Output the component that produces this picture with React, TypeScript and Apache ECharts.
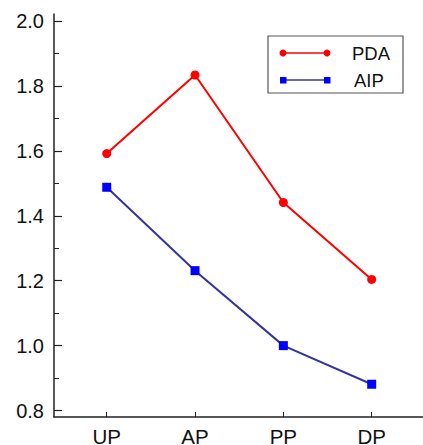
import React, { useEffect, useRef } from "react";
import * as echarts from "echarts";

const categories = ["UP", "AP", "PP", "DP"];
const pdaValues = [1.592, 1.834, 1.441, 1.204];
const aipValues = [1.488, 1.231, 1.0, 0.881];
const yMajorTicks = [0.8, 1.0, 1.2, 1.4, 1.6, 1.8, 2.0];
const yMinorTicks = [0.9, 1.1, 1.3, 1.5, 1.7, 1.9];

const FONT = "Liberation Sans, Arial, sans-serif";

export default function App() {
  const ref = useRef<HTMLDivElement>(null);
  useEffect(() => {
    if (!ref.current) return;
    const chart = echarts.init(ref.current, null, { renderer: "svg" });
    const xIdx = categories.map((_, i) => i);
    const axisColor = "#222";
    const yCommon = {
      type: "value",
      position: "left",
      min: 0.78,
      max: 2.022,
      splitLine: { show: false },
    };
    chart.setOption({
      animation: false,
      backgroundColor: "#fff",
      grid: { left: 54, right: 0, top: 14, bottom: 28, containLabel: false, outerBoundsMode: "none" },
      xAxis: {
        type: "value",
        min: -0.597,
        max: 3.581,
        splitLine: { show: false },
        axisLine: { show: true, onZero: false, lineStyle: { color: axisColor, width: 1.5 } },
        axisTick: { show: true, inside: true, length: 5, customValues: xIdx, lineStyle: { color: axisColor, width: 1 } },
        axisLabel: {
          customValues: xIdx,
          formatter: (v: number) => categories[Math.round(v)] ?? "",
          color: "#111",
          fontSize: 20.5,
          fontFamily: FONT,
          margin: 12,
          lineHeight: 15,
        },
      },
      yAxis: [
        {
          ...yCommon,
          axisLine: { show: true, onZero: false, lineStyle: { color: axisColor, width: 1.5 } },
          axisTick: { show: false },
          axisLabel: {
            customValues: yMajorTicks,
            formatter: (v: number) => v.toFixed(1),
            color: "#111",
            fontSize: 20,
            fontFamily: FONT,
            margin: 10,
          },
        },
        {
          ...yCommon,
          axisLine: { show: false, onZero: false },
          axisTick: { show: true, inside: true, length: 8, customValues: yMajorTicks, lineStyle: { color: axisColor, width: 1.2 } },
          axisLabel: { show: false },
        },
        {
          ...yCommon,
          axisLine: { show: false, onZero: false },
          axisTick: { show: true, inside: true, length: 5, customValues: yMinorTicks, lineStyle: { color: axisColor, width: 1 } },
          axisLabel: { show: false },
        },
      ],
      series: [
        {
          name: "PDA",
          type: "line",
          data: pdaValues.map((v, i) => [i, v]),
          symbol: "circle",
          symbolSize: 9,
          lineStyle: { color: "#ff0000", width: 2 },
          itemStyle: { color: "#ff0000" },
        },
        {
          name: "AIP",
          type: "line",
          data: aipValues.map((v, i) => [i, v]),
          symbol: "rect",
          symbolSize: 9,
          lineStyle: { color: "#3434a0", width: 2 },
          itemStyle: { color: "#0000ff" },
        },
      ],
      graphic: [
        {
          type: "rect",
          shape: { x: 268, y: 36, width: 135, height: 57 },
          style: { fill: "#fff", stroke: "#555", lineWidth: 1.2 },
        },
        { type: "line", shape: { x1: 283, y1: 53, x2: 327, y2: 53 }, style: { stroke: "#ff0000", lineWidth: 1.5 } },
        { type: "circle", shape: { cx: 283, cy: 53, r: 3.5 }, style: { fill: "#ff0000" } },
        { type: "circle", shape: { cx: 327, cy: 53, r: 3.5 }, style: { fill: "#ff0000" } },
        {
          type: "text",
          x: 352,
          y: 53,
          style: { text: "PDA", fill: "#111", font: `18.5px ${FONT}`, verticalAlign: "middle" },
        },
        { type: "line", shape: { x1: 283, y1: 80, x2: 327, y2: 80 }, style: { stroke: "#3434a0", lineWidth: 1.5 } },
        { type: "rect", shape: { x: 280, y: 77, width: 6.5, height: 6.5 }, style: { fill: "#0000ff" } },
        { type: "rect", shape: { x: 324, y: 77, width: 6.5, height: 6.5 }, style: { fill: "#0000ff" } },
        {
          type: "text",
          x: 354,
          y: 80,
          style: { text: "AIP", fill: "#111", font: `18.5px ${FONT}`, verticalAlign: "middle" },
        },
      ],
    });
    return () => chart.dispose();
  }, []);
  return <div ref={ref} style={{ width: 423, height: 445, position: "fixed", left: 0, top: 0 }} />;
}
